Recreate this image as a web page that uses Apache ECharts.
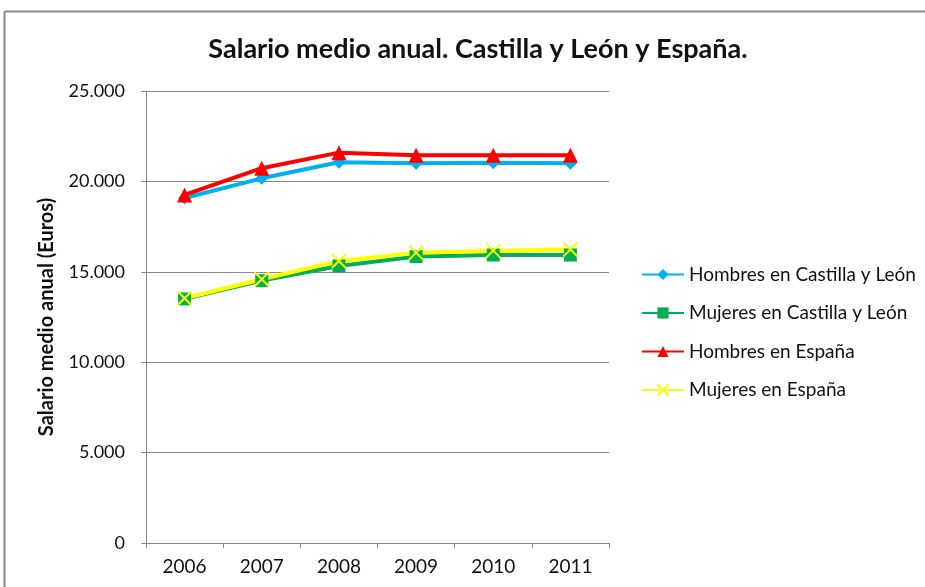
<!DOCTYPE html>
<html>
<head>
<meta charset="utf-8">
<script src="https://cdn.jsdelivr.net/npm/echarts@6/dist/echarts.min.js"></script>
<style>html,body{margin:0;padding:0;background:#fff}#c{width:925px;height:587px}</style>
</head>
<body>
<div id="c"></div>
<script>
var years = ['2006','2007','2008','2009','2010','2011'];
var hombresCyL = [19080, 20170, 21060, 21000, 21030, 21000];
var mujeresCyL = [13500, 14510, 15320, 15840, 15930, 15930];
var hombresEsp = [19250, 20730, 21590, 21440, 21440, 21440];
var mujeresEsp = [13540, 14590, 15600, 16060, 16170, 16240];
var yTicks = [0, 5000, 10000, 15000, 20000, 25000];

var FONT = 'Lato';
function fmt(v){ return v === 0 ? '0' : String(v).replace(/\B(?=(\d{3})+(?!\d))/g, '.'); }

var chart = echarts.init(document.getElementById('c'), null, {renderer:'canvas'});
chart.setOption({
  animation: false,
  backgroundColor: '#fff',
  textStyle: {fontFamily: FONT},
  title: {
    text: 'Salario medio anual. Castilla y León y España.',
    left: 473, textAlign: 'center', top: 31,
    textStyle: {fontFamily: FONT, fontWeight: 'bold', fontSize: 27, color: '#111'}
  },
  graphic: [
    {type: 'line', shape: {x1: 4.5, y1: 11.5, x2: 925, y2: 11.5},
     style: {stroke: '#888', lineWidth: 2}, silent: true, z: -1},
    {type: 'line', shape: {x1: 4.5, y1: 11.5, x2: 4.5, y2: 587},
     style: {stroke: '#888', lineWidth: 2}, silent: true, z: -1}
  ],
  legend: {
    orient: 'vertical', left: 636, top: 260,
    itemWidth: 42, itemHeight: 14, itemGap: 19.5,
    textStyle: {fontFamily: FONT, fontSize: 19, color: '#111'},
    data: ['Hombres en Castilla y León','Mujeres en Castilla y León','Hombres en España','Mujeres en España']
  },
  grid: {left: 146, top: 91, width: 463, height: 452},
  xAxis: {
    type: 'category', data: years, boundaryGap: true,
    axisLine: {lineStyle: {color: '#888', width: 1}},
    axisTick: {show: true, length: 5, lineStyle: {color: '#888'}},
    axisLabel: {fontFamily: FONT, fontSize: 19, color: '#111', margin: 14}
  },
  yAxis: {
    type: 'value', min: yTicks[0], max: yTicks[yTicks.length-1], interval: 5000,
    name: 'Salario medio anual (Euros)', nameLocation: 'middle', nameGap: 89,
    nameTextStyle: {fontFamily: FONT, fontWeight: 'bold', fontSize: 20, color: '#111'},
    axisLine: {show: true, lineStyle: {color: '#888'}},
    axisTick: {show: true, length: 5, lineStyle: {color: '#888'}},
    splitLine: {lineStyle: {color: '#888'}},
    axisLabel: {fontFamily: FONT, fontSize: 18, color: '#111', margin: 21, formatter: fmt}
  },
  series: [
    {name: 'Hombres en Castilla y León', type: 'line', data: hombresCyL,
     symbol: 'diamond', symbolSize: 13, lineStyle: {color: '#00B0F0', width: 4},
     itemStyle: {color: '#00B0F0'}},
    {name: 'Mujeres en Castilla y León', type: 'line', data: mujeresCyL,
     symbol: 'rect', symbolSize: 13, lineStyle: {color: '#00B050', width: 4},
     itemStyle: {color: '#00B050'}},
    {name: 'Hombres en España', type: 'line', data: hombresEsp,
     symbol: 'triangle', symbolSize: 15, lineStyle: {color: '#FF0000', width: 4},
     itemStyle: {color: '#FF0000'}},
    {name: 'Mujeres en España', type: 'line', data: mujeresEsp,
     symbol: 'path://M0,0L10,10M10,0L0,10', symbolSize: 14, lineStyle: {color: '#FFFF00', width: 4},
     itemStyle: {color: 'none', borderColor: '#FFFF00', borderWidth: 2}}
  ]
});
</script>
</body>
</html>
